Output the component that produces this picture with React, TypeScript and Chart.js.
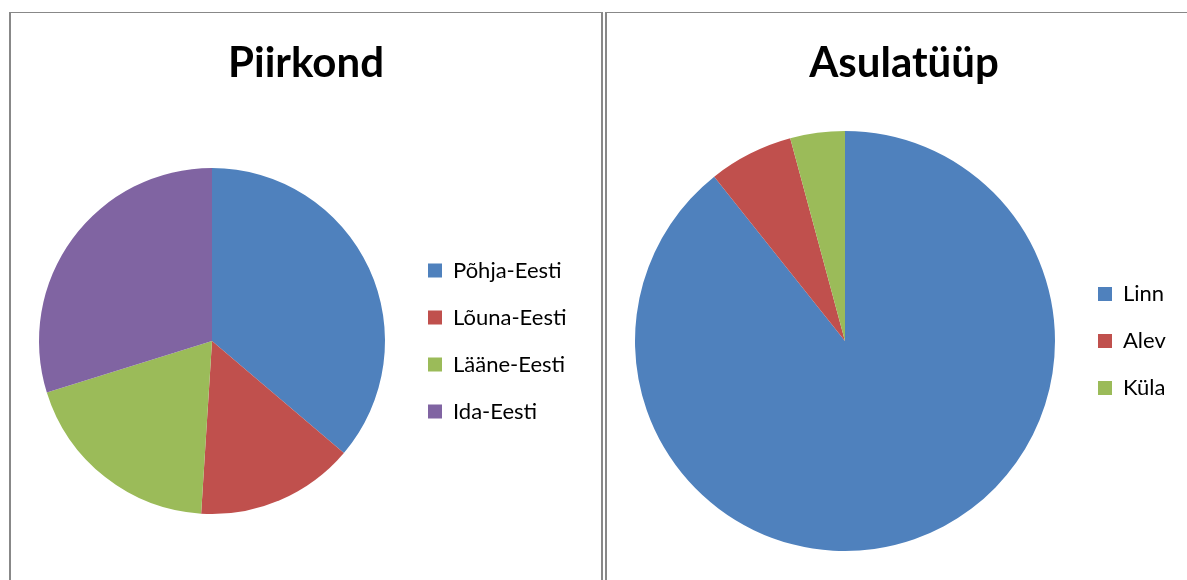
import React, { useEffect, useRef } from "react";
import { Chart, registerables } from "chart.js";

Chart.register(...registerables);

const regionLabels = ["Põhja-Eesti", "Lõuna-Eesti", "Lääne-Eesti", "Ida-Eesti"];
const regionValues = [36.2, 14.8, 19.2, 29.8];
const regionColors = ["#4F81BD", "#C0504D", "#9BBB59", "#8064A2"];

const settlementLabels = ["Linn", "Alev", "Küla"];
const settlementValues = [89.3, 6.5, 4.2];
const settlementColors = ["#4F81BD", "#C0504D", "#9BBB59"];

const FONT = "Lato";
const TITLE_SIZE = 42;
const LEGEND_SIZE = 22;
const LEGEND_PAD = 25;
const BOX = 14;
const CANVAS_H = 567;

type BoxProps = {
  title: string;
  labels: string[];
  values: number[];
  colors: string[];
  left: number;
  width: number;
  pieCx: number;
  pieCy: number;
  radius: number;
  legendBoxX: number;
};

const centerTitlePlugin = {
  id: "centerTitle",
  afterLayout(chart: any) {
    const t = chart.titleBlock;
    if (t) {
      t.left = 0;
      t.right = chart.width;
    }
  },
};

function PieBox(props: BoxProps) {
  const ref = useRef<HTMLCanvasElement | null>(null);
  const { title, labels, values, colors, left, width, pieCx, pieCy, radius, legendBoxX } = props;

  useEffect(() => {
    const canvas = ref.current;
    if (!canvas) return;
    const mctx = document.createElement("canvas").getContext("2d")!;
    mctx.font = `${LEGEND_SIZE}px ${FONT}`;
    const textW = Math.max(...labels.map((l) => mctx.measureText(l).width));
    const chartTop = pieCy - radius;
    const chartBottom = pieCy + radius;
    const legendLeft = legendBoxX - LEGEND_PAD;
    const padL = 2 * pieCx - legendLeft;
    const legendW = LEGEND_PAD + BOX + LEGEND_SIZE / 2 + textW + 10;
    const padR = width - legendLeft - legendW;
    const titleLine = TITLE_SIZE * 1.2;
    const titleTopPad = 50 - titleLine / 2;

    const chart = new Chart(canvas, {
      type: "pie",
      data: {
        labels,
        datasets: [
          {
            data: values,
            backgroundColor: colors,
            borderWidth: 0,
          },
        ],
      },
      options: {
        responsive: false,
        animation: false,
        devicePixelRatio: 1,
        events: [],
        layout: {
          padding: { left: padL, right: padR, top: 0, bottom: CANVAS_H - chartBottom },
        },
        plugins: {
          title: {
            display: true,
            text: title,
            color: "#000",
            font: { family: FONT, size: TITLE_SIZE, weight: "bold", lineHeight: 1.2 },
            padding: { top: titleTopPad, bottom: chartTop - titleTopPad - titleLine },
          },
          legend: {
            display: true,
            position: "right",
            align: "center",
            fullSize: false,
            labels: {
              color: "#000",
              font: { family: FONT, size: LEGEND_SIZE },
              boxWidth: BOX,
              boxHeight: BOX,
              padding: LEGEND_PAD,
            },
          },
          tooltip: { enabled: false },
        },
      },
      plugins: [centerTitlePlugin],
    });
    return () => chart.destroy();
  }, []);

  return (
    <div
      style={{
        position: "absolute",
        left,
        top: 12,
        width,
        height: 600,
        borderTop: "1px solid #888",
        borderLeft: "2px solid #888",
        borderRight: "2px solid #888",
        boxSizing: "content-box",
      }}
    >
      <canvas
        ref={ref}
        width={width}
        height={CANVAS_H}
        style={{ position: "absolute", left: 0, top: 0, width, height: CANVAS_H }}
      />
    </div>
  );
}

export default function App() {
  return (
    <div
      style={{
        position: "fixed",
        left: 0,
        top: 0,
        width: 1187,
        height: 580,
        overflow: "hidden",
        background: "#fff",
      }}
    >
      <PieBox
        title="Piirkond"
        labels={regionLabels}
        values={regionValues}
        colors={regionColors}
        left={9}
        width={590}
        pieCx={201}
        pieCy={328}
        radius={173}
        legendBoxX={417}
      />
      <PieBox
        title="Asulatüüp"
        labels={settlementLabels}
        values={settlementValues}
        colors={settlementColors}
        left={605}
        width={594}
        pieCx={238}
        pieCy={328}
        radius={210}
        legendBoxX={491}
      />
    </div>
  );
}
